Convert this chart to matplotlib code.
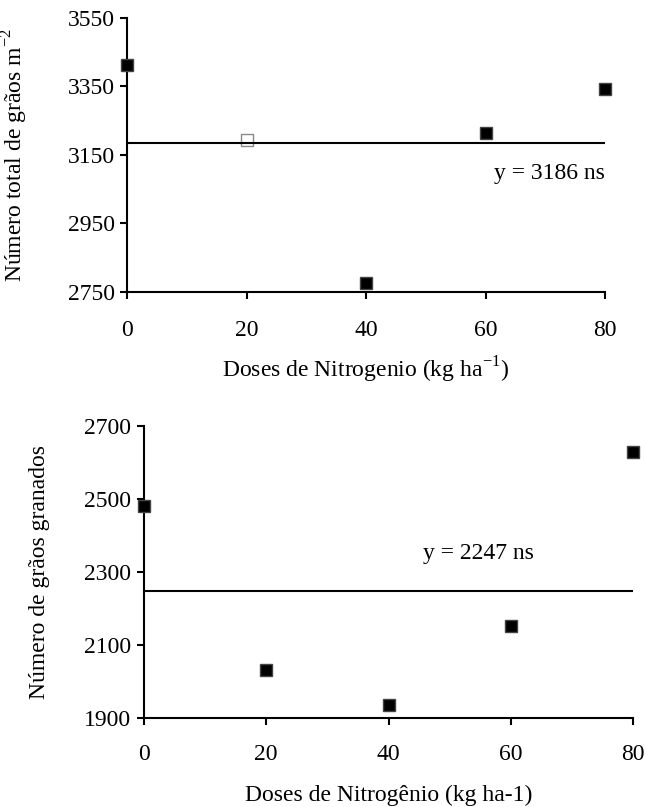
import matplotlib.pyplot as plt
from matplotlib.transforms import Bbox, TransformedBbox

plt.rcParams['font.family'] = ['Liberation Serif', 'DejaVu Serif']
plt.rcParams['font.size'] = 17

doses = [0, 20, 40, 60, 80]
graos_total = [3413, 3194, 2776, 3214, 3344]
media_total = 3186
graos_granados = [2481, 2032, 1936, 2152, 2629]
media_granados = 2247

yticks_total = [2750, 2950, 3150, 3350, 3550]
yticks_granados = [1900, 2100, 2300, 2500, 2700]

fig = plt.figure(figsize=(6.46, 8.07), dpi=100)
ax1 = fig.add_axes([0.1966, 0.6382, 0.740, 0.3395])
ax2 = fig.add_axes([0.2229, 0.1103, 0.757, 0.3618])


def estilo(ax, yticks, pad):
    ax.spines['top'].set_visible(False)
    ax.spines['right'].set_visible(False)
    for s in ('left', 'bottom'):
        ax.spines[s].set_linewidth(1.5)
    ax.set_xlim(doses[0], doses[-1])
    ax.set_ylim(yticks[0], yticks[-1])
    ax.set_xticks(doses)
    ax.set_yticks(yticks)
    ax.tick_params(axis='both', direction='out', length=5, width=1.5)
    ax.tick_params(axis='x', pad=pad)
    ax.tick_params(axis='y', pad=4)


# grafico de cima
estilo(ax1, yticks_total, 15)
ax1.hlines(media_total, doses[0], doses[-1], color='black', lw=1.5, zorder=3)
for i, (x, y) in enumerate(zip(doses, graos_total)):
    if i == 1:
        ax1.plot(x, y, 's', ms=9, mfc='white', mec='#888888', mew=1,
                 clip_on=False, zorder=2)
    else:
        ax1.plot(x, y, 's', ms=9, mfc='black', mec='#444444', mew=1,
                 clip_on=False, zorder=4)
ax1.text(doses[-1], 3097, 'y = 3186 ns', ha='right', va='center')
ax1.set_xlabel('Doses de Nitrogenio (kg ha$^{\\mathregular{-1}}$)', labelpad=10)
ax1.set_ylabel('Número total de grãos m$^{\\mathregular{-2}}$')
ax1.yaxis.set_label_coords(-0.203, 0.5)

# grafico de baixo
estilo(ax2, yticks_granados, 14)
ax2.hlines(media_granados, doses[0], doses[-1], color='black', lw=1.5, zorder=3)
ax2.plot(doses, graos_granados, 's', ms=9, mfc='black', mec='#444444', mew=1,
         clip_on=False, zorder=4)
ax2.text(45.6, 2352, 'y = 2247 ns', ha='left', va='center')
ax2.set_xlabel('Doses de Nitrogênio (kg ha-1)', labelpad=14)
lab = ax2.set_ylabel('Número de grãos granados')
ax2.yaxis.set_label_coords(-0.192, 0.5)
lab.set_clip_on(True)
lab.set_clip_box(TransformedBbox(Bbox([[0, 0], [1, 0.4461]]), fig.transFigure))

fig.savefig('out.png', dpi=100)
